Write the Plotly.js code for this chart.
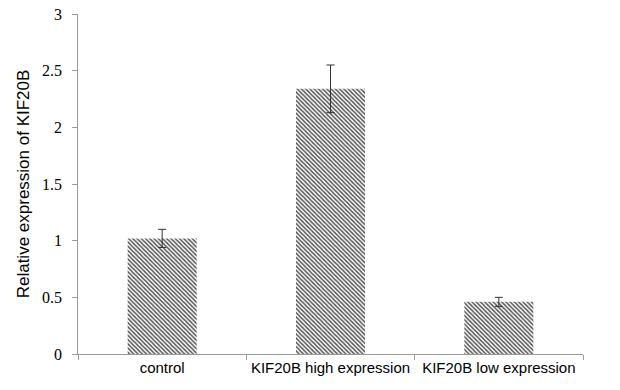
<!DOCTYPE html>
<html>
<head>
<meta charset="utf-8">
<script src="https://cdn.plot.ly/plotly-3.0.1.min.js"></script>
<style>html,body{margin:0;padding:0;background:#fff;}#chart{width:620px;height:390px;}</style>
</head>
<body>
<div id="chart"></div>
<script>
const categories = ["control", "KIF20B high expression", "KIF20B low expression"];
const values = [1.02, 2.34, 0.46];
const errors = [0.08, 0.21, 0.04];
const yTicks = [0, 0.5, 1, 1.5, 2, 2.5, 3];
const yTickLabels = ["0", "0.5", "1", "1.5", "2", "2.5", "3"];

const trace = {
  type: "bar",
  x: categories,
  y: values,
  marker: {
    color: "#ffffff",
    line: {width: 0},
    pattern: {shape: "\\", fgcolor: "#555555", bgcolor: "#ffffff", size: 3, solidity: 0.5, fillmode: "replace"}
  },
  error_y: {type: "data", array: errors, visible: true, color: "#333333", thickness: 1, width: 4}
};

const yLabelAnnotations = yTicks.map(function(v, i){
  return {
    xref: "paper", yref: "y", x: -0.028, y: v,
    text: yTickLabels[i], showarrow: false,
    xanchor: "right", yanchor: "middle",
    font: {family: "Liberation Serif, Times New Roman, serif", size: 16, color: "#000000"}
  };
});

const layout = {
  width: 620, height: 390,
  margin: {l: 78, r: 37, t: 14, b: 36},
  paper_bgcolor: "#ffffff", plot_bgcolor: "#ffffff",
  bargap: 0.59,
  showlegend: false,
  annotations: yLabelAnnotations,
  xaxis: {
    showline: true, linecolor: "#999999", linewidth: 1,
    ticks: "outside", tickson: "boundaries", ticklen: 5, tickcolor: "#999999",
    showgrid: false, zeroline: false, tickangle: 0,
    tickfont: {family: "Liberation Sans", size: 15, color: "#000000"}
  },
  yaxis: {
    range: [0, 3], tickmode: "array", tickvals: yTicks,
    showticklabels: false,
    showline: true, linecolor: "#999999", linewidth: 1,
    ticks: "outside", ticklen: 5, tickcolor: "#999999",
    showgrid: false, zeroline: false,
    title: {text: "Relative expression of KIF20B", font: {family: "Liberation Sans", size: 17, color: "#000000"}, standoff: 38}
  }
};

Plotly.newPlot("chart", [trace], layout, {staticPlot: true, displayModeBar: false});
</script>
</body>
</html>
